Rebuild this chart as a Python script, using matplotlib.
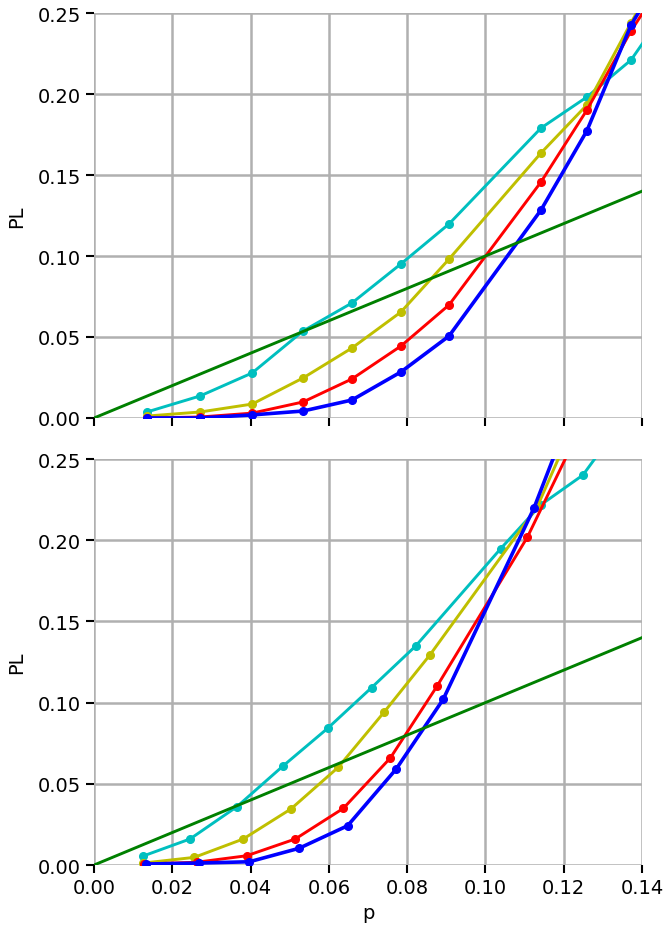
import numpy as np
import matplotlib
matplotlib.use("Agg")
import matplotlib.pyplot as plt

# panel du haut
p_top = [0.0135, 0.0271, 0.0404, 0.0534, 0.0659, 0.0784, 0.0907, 0.1142, 0.1259, 0.1372, 0.149]
cyan_top = [0.0037, 0.0136, 0.0278, 0.0537, 0.0710, 0.0951, 0.1198, 0.1790, 0.1981, 0.2210, 0.262]
yellow_top = [0.0012, 0.0037, 0.0086, 0.0247, 0.0432, 0.0654, 0.0981, 0.1636, 0.1932, 0.2440, 0.295]
red_top = [0.0000, 0.0006, 0.0030, 0.0099, 0.0241, 0.0444, 0.0698, 0.1457, 0.1900, 0.2389, 0.283]
blue_top = [0.0000, 0.0000, 0.0019, 0.0043, 0.0111, 0.0284, 0.0506, 0.1284, 0.1772, 0.2426, 0.290]

# panel du bas
p_cyan = [0.0124, 0.0245, 0.0365, 0.0482, 0.0597, 0.0709, 0.0822, 0.1039, 0.1141, 0.1249, 0.137]
cyan_bot = [0.0054, 0.0160, 0.0359, 0.0608, 0.0842, 0.1092, 0.1349, 0.1948, 0.2217, 0.2401, 0.280]
p_yellow = [0.0126, 0.0256, 0.0381, 0.0503, 0.0624, 0.0742, 0.0858, 0.1132, 0.125]
yellow_bot = [0.0012, 0.0047, 0.0160, 0.0345, 0.0602, 0.0944, 0.1293, 0.2204, 0.285]
p_red = [0.0128, 0.0262, 0.0390, 0.0514, 0.0637, 0.0757, 0.0876, 0.1107, 0.123]
red_bot = [0.0006, 0.0017, 0.0057, 0.0160, 0.0349, 0.0659, 0.1100, 0.2018, 0.263]
p_blue = [0.0133, 0.0267, 0.0397, 0.0524, 0.0648, 0.0772, 0.0892, 0.1124, 0.124]
blue_bot = [0.0006, 0.0012, 0.0020, 0.0103, 0.0242, 0.0591, 0.1020, 0.2198, 0.292]

x_ticks = [0.00, 0.02, 0.04, 0.06, 0.08, 0.10, 0.12, 0.14]
y_ticks = [0.00, 0.05, 0.10, 0.15, 0.20, 0.25]

fig = plt.figure(figsize=(6.65, 9.28), dpi=100)
ax1 = fig.add_axes([0.1414, 0.5485, 0.824, 0.4364])
ax2 = fig.add_axes([0.1414, 0.0668, 0.824, 0.4375])

def style(ax, labels):
    ax.set_xlim(0, 0.14)
    ax.set_ylim(0, 0.25)
    ax.set_xticks(x_ticks)
    ax.set_yticks(y_ticks)
    ax.set_yticklabels(["%.2f" % v for v in y_ticks])
    if labels:
        ax.set_xticklabels(["%.2f" % v for v in x_ticks])
    else:
        ax.set_xticklabels([])
    ax.grid(True, color="#b0b0b0", linewidth=1.8)
    ax.set_axisbelow(True)
    for s in ax.spines.values():
        s.set_visible(False)
    ax.tick_params(labelsize=14, length=6, width=1.5)
    ax.set_ylabel("PL", fontsize=14, labelpad=8)

kw = dict(marker="o", markersize=5.5, linewidth=2.1)
ax1.plot(p_top, cyan_top, color="c", **kw)
ax1.plot(p_top, yellow_top, color="y", **kw)
ax1.plot(p_top, red_top, color="r", **kw)
ax1.plot(p_top, blue_top, color="b", marker="o", markersize=5.5, linewidth=2.6)
ax1.plot([0, 0.14], [0, 0.14], color="g", linewidth=2.1)
style(ax1, False)

ax2.plot(p_cyan, cyan_bot, color="c", **kw)
ax2.plot(p_yellow, yellow_bot, color="y", **kw)
ax2.plot(p_red, red_bot, color="r", **kw)
ax2.plot(p_blue, blue_bot, color="b", marker="o", markersize=5.5, linewidth=2.6)
ax2.plot([0, 0.14], [0, 0.14], color="g", linewidth=2.1)
style(ax2, True)
ax2.set_xlabel("p", fontsize=14)

fig.savefig("out.png", dpi=100)
